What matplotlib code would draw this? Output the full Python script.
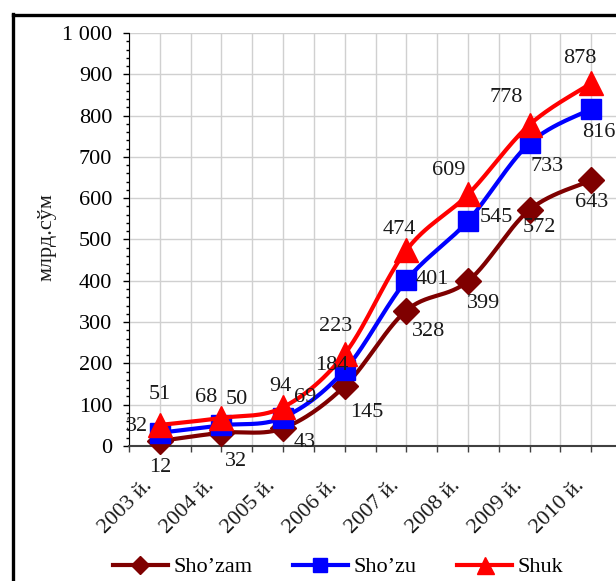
import numpy as np
import matplotlib
matplotlib.use("Agg")
import matplotlib.pyplot as plt
from matplotlib.lines import Line2D
from matplotlib.ticker import MultipleLocator, FuncFormatter
import matplotlib.transforms as mtransforms

plt.rcParams['font.family'] = ['Liberation Serif', 'DejaVu Serif']

years = ["2003 й.", "2004 й.", "2005 й.", "2006 й.", "2007 й.", "2008 й.", "2009 й.", "2010 й."]
sho_zam = [12, 32, 43, 145, 328, 399, 572, 643]
sho_zu = [32, 50, 69, 184, 401, 545, 733, 816]
shuk = [51, 68, 94, 223, 474, 609, 778, 878]
names = ["Sho’zam", "Sho’zu", "Shuk"]

# label offsets in pixels (dx, dy up)
off_zam = [(0, -26), (15, -29), (22, -14), (22, -26), (22, -21), (16, -22), (10, -18), (0, -22)]
off_zu = [(-23, 6), (15, 26), (22, 20), (-13, 5), (26, 1), (28, 3), (18, -23), (8, -24)]
off_shuk = [(0, 30), (-15, 20), (-3, 21), (-9, 27), (-7, 21), (-19, 24), (-23, 27), (-11, 25)]


def smooth(x, y, n=30):
    # catmull-rom style smoothing like excel's smoothed line
    x = np.asarray(x, float)
    y = np.asarray(y, float)
    P = np.column_stack([x, y])
    P = np.vstack([P[0], P, P[-1]])
    out = []
    t = np.linspace(0, 1, n)[:, None]
    for i in range(1, len(P) - 2):
        p0, p1, p2, p3 = P[i - 1], P[i], P[i + 1], P[i + 2]
        c1 = p1 + (p2 - p0) / 6
        c2 = p2 - (p3 - p1) / 6
        seg = (1 - t) ** 3 * p1 + 3 * (1 - t) ** 2 * t * c1 + 3 * (1 - t) * t ** 2 * c2 + t ** 3 * p2
        out.append(seg)
    out = np.vstack(out)
    return out[:, 0], out[:, 1]


fig = plt.figure(figsize=(6.16, 5.81), dpi=100)
ax = fig.add_axes([129 / 616, 135 / 581, 493 / 616, 413 / 581])

x = np.arange(len(years))
series = [
    (sho_zam, "#7F0000", "D", 13, off_zam),
    (sho_zu, "#0000FF", "s", 14, off_zu),
    (shuk, "#FF0000", "^", 17, off_shuk),
]

handles = []
for k, (vals, col, mk, ms, offs) in enumerate(series):
    sx, sy = smooth(x, vals)
    ax.plot(sx, sy, color=col, lw=3, zorder=3 + k, clip_on=False, solid_capstyle='round')
    ax.plot(x, vals, ls='none', marker=mk, ms=ms, color=col, zorder=3 + k, clip_on=False)
    for i, v in enumerate(vals):
        dx, dy = offs[i]
        ax.annotate(str(v), (x[i], v), xytext=(dx * 0.72, dy * 0.72), textcoords='offset points',
                    ha='center', va='center', fontsize=16, color='#1a1a1a', zorder=10,
                    annotation_clip=False)
    handles.append(Line2D([], [], color=col, lw=3, marker=mk, ms=ms * 0.72))

ax.set_xlim(-0.5, 7.5)
ax.set_ylim(0, 1000)
ax.xaxis.set_major_locator(MultipleLocator(1))
ax.xaxis.set_minor_locator(MultipleLocator(0.5))
ax.yaxis.set_major_locator(MultipleLocator(100))
ax.yaxis.set_minor_locator(MultipleLocator(20))
ax.yaxis.set_major_formatter(FuncFormatter(lambda v, p: "{:,}".format(int(v)).replace(",", " ")))
ax.set_xticklabels([])
ax.set_xticks(np.arange(-0.5, 8, 0.5), minor=True)

ax.grid(True, which='major', axis='y', color='#D0D0D0', lw=1)
ax.grid(True, which='both', axis='x', color='#D0D0D0', lw=1)
ax.set_axisbelow(True)
for s in ['top', 'right']:
    ax.spines[s].set_visible(False)
ax.spines['left'].set_color('#000000')
ax.spines['bottom'].set_color('#404040')
ax.spines['bottom'].set_linewidth(1.5)
ax.tick_params(axis='y', which='major', length=4, width=1, labelsize=16, pad=8, direction='out')
ax.tick_params(axis='y', which='minor', length=2.5, width=1, direction='out')
ax.tick_params(axis='x', which='both', length=4, width=1, direction='out', color='#404040')

trans = ax.get_xaxis_transform() + mtransforms.ScaledTranslation(-10 / 100, -37 / 100, fig.dpi_scale_trans)
for i, lab in enumerate(years):
    ax.text(x[i], 0, lab, transform=trans, rotation=45, rotation_mode='anchor',
            ha='right', va='center', fontsize=16, color='#1a1a1a')

fig.text(47 / 616, 1 - 237 / 581, "млрд.сўм", rotation=90, ha='center', va='center',
         fontsize=16, color='#1a1a1a')

fig.legend(handles, names, loc='center', bbox_to_anchor=(338 / 616, 1 - 567 / 581), ncol=3,
           frameon=False, fontsize=16, handlelength=2.5, handletextpad=0.25, columnspacing=1.8)

# outer frame of the chart area
fig.add_artist(Line2D([12.5 / 616, 12.5 / 616], [0, 1 - 14 / 581], color='black', lw=2.4,
                      transform=fig.transFigure))
fig.add_artist(Line2D([12.5 / 616, 1], [1 - 14.5 / 581, 1 - 14.5 / 581], color='black', lw=2.4,
                      transform=fig.transFigure))

fig.savefig("out.png", dpi=100)
